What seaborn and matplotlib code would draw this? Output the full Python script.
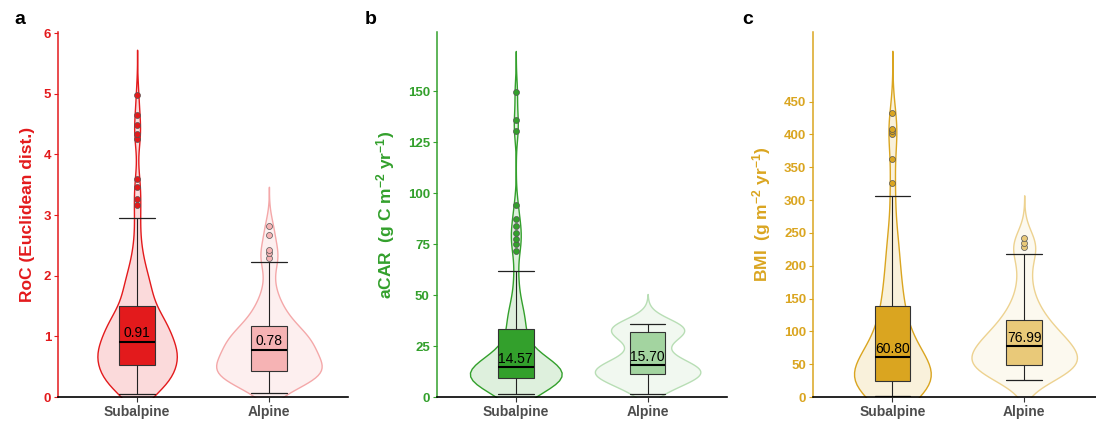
import numpy as np
import pandas as pd
import matplotlib
matplotlib.use("Agg")
import matplotlib.pyplot as plt
from matplotlib.colors import to_rgb
import seaborn as sns

ZONES = ["Subalpine", "Alpine"]

# RoC (Euclidean distance): observed values and number of samples at each value
roc_sub_vals = [0.05, 0.12, 0.20, 0.28, 0.36, 0.44, 0.52, 0.60, 0.68, 0.76, 0.84, 0.91,
                0.99, 1.08, 1.18, 1.28, 1.39, 1.50, 1.62, 1.75, 1.90, 2.05, 2.22, 2.40,
                2.60, 2.80, 2.96, 3.17, 3.27, 3.47, 3.60, 4.25, 4.33, 4.48, 4.65, 4.98]
roc_sub_cnt = [4, 4, 5, 6, 6, 7, 2, 8, 8, 7, 7, 2,
               6, 6, 7, 6, 5, 2, 4, 4, 4, 3, 2, 2,
               1, 1, 1, 1, 1, 1, 1, 1, 1, 1, 1, 1]
roc_alp_vals = [0.07, 0.18, 0.26, 0.32, 0.38, 0.43, 0.50, 0.57, 0.64, 0.71, 0.78, 0.85,
                0.93, 1.00, 1.08, 1.17, 1.28, 1.42, 1.58, 1.75, 1.95, 2.22, 2.30, 2.37,
                2.42, 2.68, 2.82]
roc_alp_cnt = [1, 2, 3, 5, 5, 2, 4, 4, 3, 3, 2, 4,
               4, 3, 3, 2, 3, 2, 2, 1, 1, 1, 1, 1,
               1, 1, 1]

# aCAR (g C m-2 yr-1)
acar_sub_vals = [1.6, 3.0, 4.5, 6.0, 7.5, 8.5, 9.5, 10.5, 11.5, 12.5, 13.5, 14.57,
                 16, 18, 20, 22.5, 25, 28, 31, 33.4, 36, 40, 44, 49,
                 55, 62, 71.8, 74.8, 77.6, 80.4, 83.7, 87.2, 94.3, 130.5, 135.9, 149.7]
acar_sub_cnt = [2, 3, 3, 4, 4, 4, 2, 5, 5, 4, 4, 2,
                5, 4, 3, 2, 2, 1, 1, 2, 2, 2, 2, 1,
                1, 1, 1, 1, 1, 1, 1, 1, 1, 1, 1, 1]
acar_alp_vals = [1.6, 4.0, 6.5, 8.5, 10.0, 11.4, 12.5, 13.5, 14.5, 15.70, 17,
                 19, 22, 25, 28, 30, 31.8, 32.5, 33.5, 34.5, 35.9]
acar_alp_cnt = [1, 1, 2, 2, 2, 2, 2, 2, 2, 1, 2,
                1, 1, 1, 1, 1, 1, 2, 2, 2, 2]

# BMI (g m-2 yr-1)
bmi_sub_vals = [1, 5, 10, 14, 18, 21, 24.3, 29, 34, 39, 44, 49, 54, 58, 60.80,
                65, 72, 80, 90, 100, 110, 120, 130, 137.9, 150, 165, 180, 200,
                220, 245, 270, 305.6, 325.3, 363.3, 401, 405, 408, 432.3]
bmi_sub_cnt = [2, 3, 3, 4, 4, 4, 2, 3, 3, 3, 3, 2, 2, 2, 1,
               3, 3, 3, 2, 2, 2, 2, 2, 1, 2, 2, 2, 2,
               2, 2, 1, 1, 1, 1, 1, 1, 1, 1]
bmi_alp_vals = [26.4, 32, 37, 42, 46, 49.2, 55, 60, 65, 70, 74, 76.99, 82, 88,
                95, 103, 111, 117.6, 128, 140, 155, 172, 195, 218, 228, 234.6, 241.7]
bmi_alp_cnt = [1, 2, 2, 2, 3, 1, 2, 2, 2, 2, 1, 1, 2, 2,
               2, 2, 1, 1, 2, 1, 1, 1, 1, 1, 1, 1, 1]

roc_ticks = [0, 1, 2, 3, 4, 5, 6]
acar_ticks = [0, 25, 50, 75, 100, 125, 150]
bmi_ticks = [0, 50, 100, 150, 200, 250, 300, 350, 400, 450]


def long_table(sub_vals, sub_cnt, alp_vals, alp_cnt):
    sub = np.repeat(sub_vals, sub_cnt)
    alp = np.repeat(alp_vals, alp_cnt)
    return pd.DataFrame({
        "zone": ["Subalpine"] * len(sub) + ["Alpine"] * len(alp),
        "value": np.concatenate([sub, alp]),
    })


def nrd0(kde):
    """Silverman's rule of thumb (R's bw.nrd0) as a gaussian_kde factor."""
    x = np.asarray(kde.dataset).ravel()
    sd = x.std(ddof=1)
    q1, q3 = np.percentile(x, [25, 75])
    h = 0.9 * min(sd, (q3 - q1) / 1.34) * len(x) ** -0.2
    return h / sd


def tint(color, a):
    rgb = np.array(to_rgb(color))
    return tuple(1 - a * (1 - rgb))


sns.set_theme(style="white")
plt.rcParams["font.family"] = ["Liberation Sans", "DejaVu Sans"]
plt.rcParams["mathtext.fontset"] = "custom"
plt.rcParams["mathtext.rm"] = "Liberation Sans"
plt.rcParams["mathtext.default"] = "regular"

panels = [
    dict(letter="a", df=long_table(roc_sub_vals, roc_sub_cnt, roc_alp_vals, roc_alp_cnt),
         color="#E31A1C", box_a=0.33, edge_a=0.38, ylim=6.02, ticks=roc_ticks,
         ylabel="RoC (Euclidean dist.)", left=58, label_x=-0.079, letter_x=14),
    dict(letter="b", df=long_table(acar_sub_vals, acar_sub_cnt, acar_alp_vals, acar_alp_cnt),
         color="#33A02C", box_a=0.45, edge_a=0.35, ylim=179, ticks=acar_ticks,
         ylabel="aCAR  (g C m$^{-2}$ yr$^{-1}$)", left=436.7, label_x=-0.137, letter_x=365),
    dict(letter="c", df=long_table(bmi_sub_vals, bmi_sub_cnt, bmi_alp_vals, bmi_alp_cnt),
         color="#DAA520", box_a=0.6, edge_a=0.5, ylim=556, ticks=bmi_ticks,
         ylabel="BMI  (g m$^{-2}$ yr$^{-1}$)", left=813.3, label_x=-0.139, letter_x=742),
]

W, H = 1096, 421
fig = plt.figure(figsize=(W / 100, H / 100), dpi=100)
box_w = 0.27

for p in panels:
    ax = fig.add_axes([p["left"] / W, 24 / H, 290 / W, 365 / H])
    col = p["color"]
    box_cols = [col, tint(col, p["box_a"])]
    fill_cols = [tint(col, 0.16), tint(col, 0.07)]
    edge_cols = [col, tint(col, p["edge_a"])]

    sns.violinplot(data=p["df"], x="zone", y="value", hue="zone", order=ZONES,
                   hue_order=ZONES, palette=fill_cols, saturation=1, inner=None,
                   cut=3, bw_method=nrd0, width=0.8, density_norm="area",
                   common_norm=True, linewidth=1.0, legend=False, ax=ax)
    for coll, ec in zip(ax.collections, edge_cols):
        coll.set_edgecolor(ec)

    sns.boxplot(data=p["df"], x="zone", y="value", hue="zone", order=ZONES,
                hue_order=ZONES, palette=box_cols, saturation=1, width=box_w,
                whis=1.5, linecolor="#333333", linewidth=0.8, fliersize=4.3,
                medianprops=dict(color="black", linewidth=1.5),
                whiskerprops=dict(color="#222222", linewidth=0.8),
                capprops=dict(color="#222222", linewidth=0.9, gid="cap"),
                flierprops=dict(marker="o", markeredgecolor="#555555",
                                markeredgewidth=0.5, gid="flier"),
                legend=False, ax=ax)

    for ln in ax.lines:
        gid = ln.get_gid()
        xd = np.asarray(ln.get_xdata(), dtype=float)
        if len(xd) == 0:
            continue
        if gid == "cap":
            c = xd.mean()
            ln.set_xdata([c - box_w / 2, c + box_w / 2])
        elif gid == "flier":
            idx = int(round(xd.mean()))
            ln.set_markerfacecolor(box_cols[idx])

    medians = p["df"].groupby("zone")["value"].median()
    for i, z in enumerate(ZONES):
        m = medians[z]
        ax.annotate(f"{m:.2f}", xy=(i, m), xytext=(0, 3.2), textcoords="offset points",
                    ha="center", va="baseline", fontsize=10, color="black", zorder=10)

    ax.set_xlim(-0.6, 1.6)
    ax.set_ylim(0, p["ylim"])
    ax.set_yticks(p["ticks"])
    ax.set_xlabel("")
    ax.set_ylabel(p["ylabel"], color=col, fontsize=12.5, fontweight="bold")
    ax.yaxis.set_label_coords(p["label_x"], 0.5)

    for s in ("top", "right"):
        ax.spines[s].set_visible(False)
    ax.spines["left"].set_color(col)
    ax.spines["left"].set_linewidth(1.1)
    ax.spines["bottom"].set_color("black")
    ax.spines["bottom"].set_linewidth(1.2)
    ax.spines["bottom"].set_zorder(5)

    ax.tick_params(axis="y", colors=col, labelsize=9.5, length=3, width=0.8,
                   pad=2, left=True)
    ax.tick_params(axis="x", colors="#333333", labelcolor="#4D4D4D", labelsize=10,
                   length=3.5, width=0.8, pad=2, bottom=True)
    for lab in ax.get_yticklabels() + ax.get_xticklabels():
        lab.set_fontweight("bold")

    fig.text(p["letter_x"] / W, (H - 24) / H, p["letter"], fontsize=14,
             fontweight="bold", color="black")

fig.savefig("out.png", dpi=100)
